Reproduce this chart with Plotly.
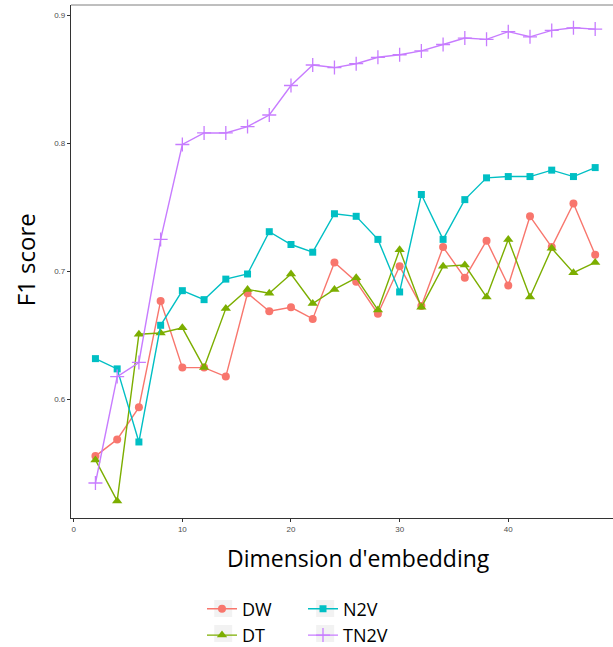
import plotly.graph_objects as go

dims = [2, 4, 6, 8, 10, 12, 14, 16, 18, 20, 22, 24, 26, 28, 30, 32, 34, 36, 38, 40, 42, 44, 46, 48]

dw = [0.556, 0.569, 0.594, 0.677, 0.625, 0.625, 0.618, 0.683, 0.669, 0.672, 0.663, 0.707,
      0.692, 0.667, 0.704, 0.673, 0.719, 0.695, 0.724, 0.689, 0.743, 0.719, 0.753, 0.713]
dt = [0.553, 0.521, 0.651, 0.652, 0.656, 0.625, 0.671, 0.686, 0.683, 0.698, 0.675, 0.686,
      0.695, 0.670, 0.717, 0.672, 0.704, 0.705, 0.680, 0.725, 0.680, 0.718, 0.699, 0.707]
n2v = [0.632, 0.624, 0.567, 0.658, 0.685, 0.678, 0.694, 0.698, 0.731, 0.721, 0.715, 0.745,
       0.743, 0.725, 0.684, 0.760, 0.725, 0.756, 0.773, 0.774, 0.774, 0.779, 0.774, 0.781]
tn2v = [0.535, 0.618, 0.629, 0.725, 0.799, 0.808, 0.808, 0.813, 0.822, 0.845, 0.861, 0.859,
        0.862, 0.867, 0.869, 0.872, 0.877, 0.882, 0.881, 0.887, 0.883, 0.888, 0.890, 0.889]

series = [
    ("DW", dw, "#F8766D", "circle", 8, "legend"),
    ("DT", dt, "#7CAE00", "triangle-up", 9, "legend"),
    ("N2V", n2v, "#00BFC4", "square", 7, "legend2"),
    ("TN2V", tn2v, "#C77CFF", "cross-thin", 10, "legend2"),
]

fig = go.Figure()
for name, vals, color, sym, size, leg in series:
    fig.add_trace(go.Scatter(
        x=dims, y=vals, name=name, mode="lines+markers",
        line=dict(color=color, width=1.4),
        marker=dict(symbol=sym, size=size, color=color,
                    line=dict(color=color, width=1.3 if sym == "cross-thin" else 0)),
        legend=leg,
    ))

W, H = 613, 647
L, T, B = 70.7, 5, 518
PW, PH = W - L, B - T


def px(xp):
    return (xp - L) / PW


def py(yp):
    return (B - yp) / PH


shapes = [
    dict(type="line", xref="paper", yref="paper", x0=0, x1=1, y0=1, y1=1,
         line=dict(color="#7F7F7F", width=1)),
]
for (x0, y0) in [(214, 600), (214, 625), (316, 600), (316, 625)]:
    shapes.append(dict(type="rect", xref="paper", yref="paper",
                       x0=px(x0), x1=px(x0 + 18), y0=py(y0), y1=py(y0 + 17),
                       fillcolor="#F2F2F2", line=dict(width=0), layer="below"))

fig.update_layout(
    width=W, height=H,
    margin=dict(l=L, r=0, t=T, b=H - B, autoexpand=False),
    plot_bgcolor="white", paper_bgcolor="white",
    showlegend=True,
    shapes=shapes,
    xaxis=dict(range=[-0.25, 49.64], tickvals=[0, 10, 20, 30, 40], ticks="outside",
               ticklen=3, tickcolor="#333333", showgrid=False, zeroline=False,
               showline=True, linecolor="#333333", linewidth=1.2,
               tickfont=dict(family="Liberation Sans", size=8, color="#4D4D4D")),
    yaxis=dict(range=[0.5077, 0.9078], tickvals=[0.6, 0.7, 0.8, 0.9], ticks="outside",
               ticklen=3, tickcolor="#333333", showgrid=False, zeroline=False,
               showline=True, linecolor="#333333", linewidth=1.2,
               tickfont=dict(family="Liberation Sans", size=8, color="#4D4D4D")),
    legend=dict(xref="container", yref="container", x=202 / W, y=1 - 590.5 / H,
                xanchor="left", yanchor="top", orientation="v",
                font=dict(family="Open Sans", size=18, color="black"),
                bgcolor="rgba(0,0,0,0)", tracegroupgap=0),
    legend2=dict(xref="container", yref="container", x=303 / W, y=1 - 590.5 / H,
                 xanchor="left", yanchor="top", orientation="v",
                 font=dict(family="Open Sans", size=18, color="black"),
                 bgcolor="rgba(0,0,0,0)", tracegroupgap=0),
    annotations=[
        dict(text="Dimension d'embedding", xref="paper", yref="paper",
             x=px(358), y=py(558), showarrow=False, xanchor="center", yanchor="middle",
             font=dict(family="Open Sans", size=23, color="black")),
        dict(text="F1 score", xref="paper", yref="paper", textangle=-90,
             x=px(25), y=py(260), showarrow=False, xanchor="center", yanchor="middle",
             font=dict(family="Open Sans", size=24, color="black")),
    ],
)

fig.write_html(
    "out.html",
    config={"displayModeBar": False},
    post_script="document.body.style.margin='0';document.body.style.padding='0';"
                "document.documentElement.style.overflow='hidden';",
)
